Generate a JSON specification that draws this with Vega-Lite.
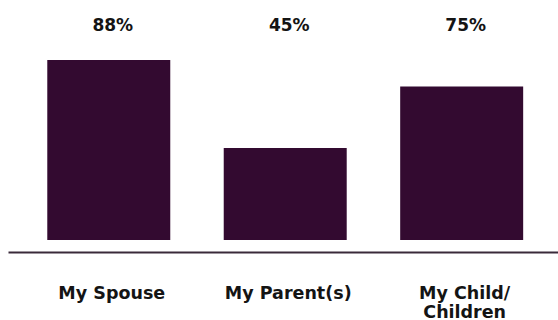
{
  "$schema": "https://vega.github.io/schema/vega-lite/v6.json",
  "width": 550,
  "height": 225,
  "autosize": {"type": "none"},
  "padding": {"left": 8, "top": 15, "right": 0, "bottom": 80},
  "background": "white",
  "config": {"view": {"stroke": null}},
  "data": {
    "values": [
      {"category": "My Spouse", "value": 88, "label": "88%"},
      {"category": "My Parent(s)", "value": 45, "label": "45%"},
      {"category": "My Child/ Children", "value": 75, "label": "75%"}
    ]
  },
  "encoding": {
    "x": {
      "field": "category",
      "type": "nominal",
      "sort": null,
      "scale": {"paddingInner": 0.303, "paddingOuter": 0.21, "align": 0.53},
      "axis": {
        "title": null,
        "orient": "bottom",
        "offset": 12,
        "domainColor": "#3a2a3a",
        "domainWidth": 2,
        "ticks": false,
        "tickSize": 0,
        "labelAngle": 0,
        "labelPadding": 32,
        "labelFont": "DejaVu Sans",
        "labelFontWeight": "bold",
        "labelFontSize": 17.5,
        "labelColor": "#141414",
        "labelLineHeight": 19,
        "labelOffset": 3,
        "labelExpr": "datum.label === 'My Child/ Children' ? ['My Child/', 'Children'] : datum.label"
      }
    }
  },
  "layer": [
    {
      "mark": {"type": "bar", "color": "#330a30"},
      "encoding": {
        "y": {
          "field": "value",
          "type": "quantitative",
          "scale": {"domain": [0, 110], "nice": false},
          "axis": null
        }
      }
    },
    {
      "mark": {
        "type": "text",
        "font": "DejaVu Sans",
        "fontWeight": "bold",
        "fontSize": 17,
        "color": "#141414",
        "baseline": "alphabetic",
        "dx": 4
      },
      "encoding": {
        "y": {"datum": 102.3, "type": "quantitative"},
        "text": {"field": "label"}
      }
    }
  ]
}
